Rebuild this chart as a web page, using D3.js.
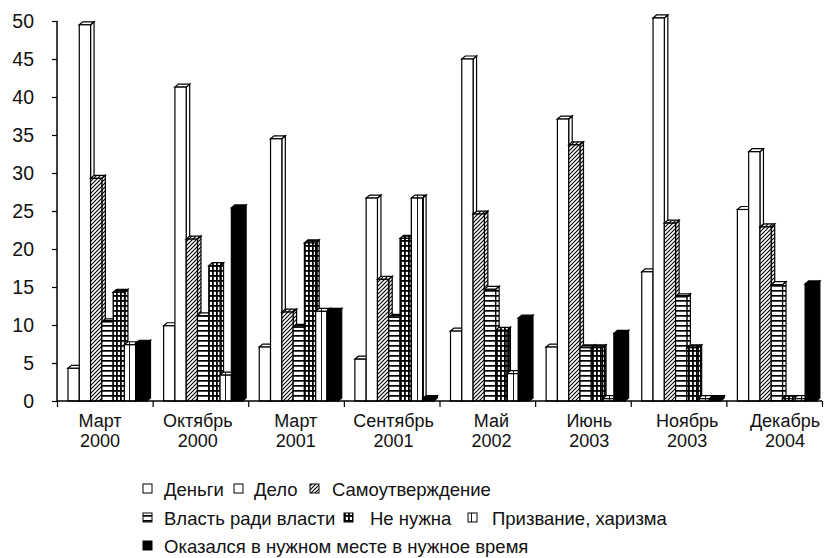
<!DOCTYPE html>
<html>
<head>
<meta charset="utf-8">
<script src="https://cdn.jsdelivr.net/npm/d3@7/dist/d3.min.js"></script>
<style>
  html, body { margin: 0; padding: 0; background: #fff; }
  svg { display: block; font-family: "Liberation Sans", Arial, sans-serif; }
</style>
</head>
<body>
<svg id="chart" width="826" height="558"></svg>
<script>
// ---- data ----
const months = ["Март", "Октябрь", "Март", "Сентябрь", "Май", "Июнь", "Ноябрь", "Декабрь"];
const years = ["2000", "2000", "2001", "2001", "2002", "2003", "2003", "2004"];
const seriesNames = ["Деньги", "Дело", "Самоутверждение", "Власть ради власти", "Не нужна", "Призвание, харизма", "Оказался в нужном месте в нужное время"];
const money      = [4.3, 9.9, 7.1, 5.5, 9.2, 7.1, 17.0, 25.2];
const work       = [49.5, 41.3, 34.5, 26.7, 45.0, 37.1, 50.4, 32.8];
const selfAffirm = [29.3, 21.3, 11.7, 16.0, 24.6, 33.7, 23.4, 22.9];
const power      = [10.4, 11.2, 9.7, 11.0, 14.7, 7.0, 13.7, 15.3];
const notNeeded  = [14.3, 17.8, 20.8, 21.4, 9.3, 7.0, 7.0, 0.3];
const calling    = [7.4, 3.4, 11.8, 26.7, 3.6, 0.3, 0.3, 0.3];
const rightPlace = [7.6, 25.4, 11.8, 0.3, 10.9, 8.9, 0.3, 15.4];
const yTicks = [0, 5, 10, 15, 20, 25, 30, 35, 40, 45, 50];

const seriesValues = [money, work, selfAffirm, power, notNeeded, calling, rightPlace];
const seriesFills = ["#fff", "#fff", "url(#hatch)", "url(#hlines)", "url(#grid)", "url(#vlines)", "#000"];

const svg = d3.select("#chart");

// ---- patterns ----
const defs = svg.append("defs");
function pat(id, w, h, draw) {
  const p = defs.append("pattern").attr("id", id).attr("patternUnits", "userSpaceOnUse")
    .attr("width", w).attr("height", h);
  p.append("rect").attr("width", w).attr("height", h).attr("fill", "#fff");
  draw(p);
}
pat("hatch", 4, 4, p => p.append("path").attr("d", "M-1,1 L1,-1 M0,4 L4,0 M3,5 L5,3")
  .attr("stroke", "#000").attr("stroke-width", 1.1));
pat("hlines", 4, 5, p => p.append("rect").attr("x", 0).attr("y", 0).attr("width", 4).attr("height", 1.7).attr("fill", "#000"));
pat("grid", 4, 5, p => {
  p.append("rect").attr("x", 0).attr("y", 0).attr("width", 4).attr("height", 1.8).attr("fill", "#000");
  p.append("rect").attr("x", 0).attr("y", 0).attr("width", 1.8).attr("height", 5).attr("fill", "#000");
});
pat("vlines", 6, 6, p => p.append("rect").attr("x", 3).attr("y", 0).attr("width", 0.9).attr("height", 6).attr("fill", "#000"));

// ---- scales ----
const x0 = d3.scaleBand().domain(d3.range(months.length)).range([57, 822]).padding(0);
const x1 = d3.scaleBand().domain(d3.range(seriesNames.length)).range([11, 90]).padding(0);
const y = d3.scaleLinear().domain([0, 50]).range([401, 21]);
const xb = d3.scaleLinear().domain([0, months.length]).range([57, 822]);
const labelX = d3.scaleLinear().domain([0, months.length - 1]).range([100, 785]);

const dx = 3.5, dy = 3;

// ---- bars ----
const barsG = svg.append("g");
months.forEach((m, g) => {
  seriesValues.forEach((vals, s) => {
    const v = vals[g];
    const x = x0(g) + x1(s);
    const w = x1.bandwidth();
    const yt = y(v), yb = y(0);
    const b = barsG.append("g");
    const fill = seriesFills[s];
    b.append("polygon")
      .attr("points", [[x + w, yb], [x + w + dx, yb - dy], [x + w + dx, yt - dy], [x + w, yt]].join(" "))
      .attr("fill", fill).attr("stroke", "#000").attr("stroke-width", 1.2);
    b.append("polygon")
      .attr("points", [[x, yt], [x + dx, yt - dy], [x + w + dx, yt - dy], [x + w, yt]].join(" "))
      .attr("fill", fill).attr("stroke", "#000").attr("stroke-width", 1.2);
    b.append("rect").attr("x", x).attr("y", yt).attr("width", w).attr("height", yb - yt)
      .attr("fill", fill).attr("stroke", "#000").attr("stroke-width", 1.2);
  });
});

// ---- axes ----
const yAxis = svg.append("g").attr("transform", "translate(57,0)")
  .call(d3.axisLeft(y).tickValues(yTicks).tickSize(5).tickPadding(18).tickFormat(d3.format("d")));
yAxis.select(".domain").attr("d", "M0,21V401").attr("stroke", "#000").attr("stroke-width", 1.5);
yAxis.selectAll(".tick line").attr("stroke", "#000").attr("stroke-width", 1.2);
yAxis.selectAll("text").attr("font-size", 19.5).attr("fill", "#111").attr("font-family", "Liberation Sans, Arial, sans-serif");

const xAxis = svg.append("g").attr("transform", "translate(0,401)")
  .call(d3.axisBottom(xb).tickValues(d3.range(months.length + 1)).tickSize(6).tickFormat(""));
xAxis.select(".domain").attr("d", "M57,0H822").attr("stroke", "#000").attr("stroke-width", 1.5);
xAxis.selectAll(".tick line").attr("stroke", "#000").attr("stroke-width", 1.2);

const lab = svg.append("g").attr("font-size", 18).attr("fill", "#111").attr("text-anchor", "middle");
months.forEach((m, i) => {
  lab.append("text").attr("x", labelX(i)).attr("y", 427).text(m);
  lab.append("text").attr("x", labelX(i)).attr("y", 447).text(years[i]);
});

// ---- legend ----
const legendPos = [
  [143, 489, 164], [234, 489, 254], [310, 489, 332],
  [143, 518, 164], [344, 518, 370], [468, 518, 492],
  [143, 546, 164]
];
const leg = svg.append("g").attr("font-size", 18.5).attr("fill", "#111");
seriesNames.forEach((name, s) => {
  const [mx, cy, tx] = legendPos[s];
  leg.append("rect").attr("x", mx).attr("y", cy - 5).attr("width", 9).attr("height", 9)
    .attr("fill", seriesFills[s]).attr("stroke", "#000").attr("stroke-width", 1);
  leg.append("text").attr("x", tx).attr("y", cy + 6.5).text(name);
});
</script>
</body>
</html>
